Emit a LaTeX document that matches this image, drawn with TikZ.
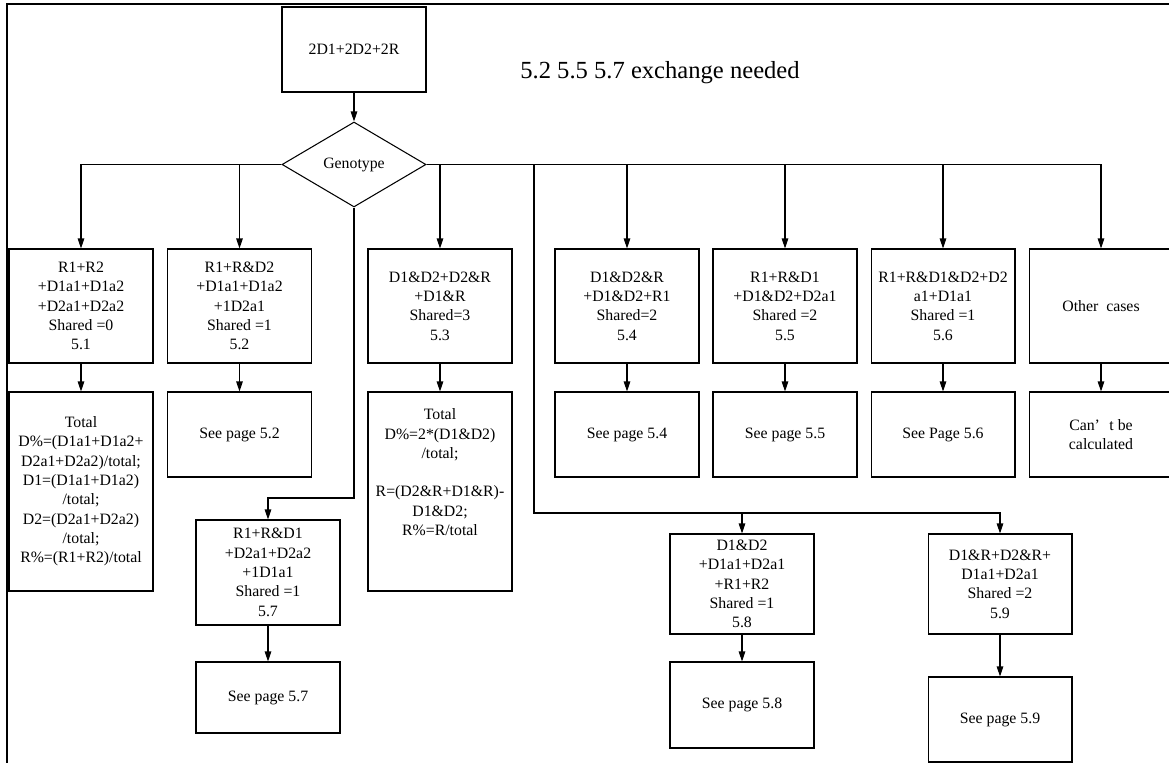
\documentclass[tikz,border=0pt]{standalone}
\usepackage{fontspec}
\setmainfont{Liberation Serif}
\usetikzlibrary{shapes.geometric,arrows.meta}

\begin{document}
\begin{tikzpicture}[x=0.02cm,y=-0.02cm,
  box/.style={draw, line width=0.6pt, minimum width=2.88cm, align=center,
    inner sep=1pt, font=\fontsize{9}{11}\selectfont},
  decide/.style={draw, diamond, line width=0.6pt, minimum width=2.88cm,
    minimum height=1.7cm, inner sep=0pt, font=\fontsize{9}{11}\selectfont},
  link/.style={line width=0.6pt, -{Triangle[length=2mm,width=1.3mm]}}]

  \useasboundingbox (0,0) rectangle (1169,763);
  % frame
  \draw[line width=0.6pt] (1180,4) -- (7,4) -- (7,770);

  % top of the chart
  \node[box, minimum height=1.7cm] (start) at (354,49.5) {2D1+2D2+2R};
  \node[decide] (geno) at (354,164.5) {Genotype};
  \node[font=\fontsize{14}{16}\selectfont] (note) at (660,73) {5.2 5.5 5.7 exchange needed};

  % genotype cases
  \node[box, minimum height=2.28cm] (b51) at (81,306) {R1+R2\\+D1a1+D1a2\\+D2a1+D2a2\\Shared =0\\5.1};
  \node[box, minimum height=2.28cm] (b52) at (239.5,306) {R1+R\&D2\\+D1a1+D1a2\\+1D2a1\\Shared =1\\5.2};
  \node[box, minimum height=2.28cm] (b53) at (440,306) {D1\&D2+D2\&R\\+D1\&R\\Shared=3\\5.3};
  \node[box, minimum height=2.28cm] (b54) at (627,306) {D1\&D2\&R\\+D1\&D2+R1\\Shared=2\\5.4};
  \node[box, minimum height=2.28cm] (b55) at (785,306) {R1+R\&D1\\+D1\&D2+D2a1\\Shared =2\\5.5};
  \node[box, minimum height=2.28cm] (b56) at (943,306) {R1+R\&D1\&D2+D2\\a1+D1a1\\Shared =1\\5.6};
  \node[box, minimum height=2.28cm] (other) at (1101,306) {Other~~cases};

  % results
  \node[box, minimum height=3.98cm] (r51) at (81,491.5) {Total\\D\%=(D1a1+D1a2+\\D2a1+D2a2)/total;\\D1=(D1a1+D1a2)\\/total;\\D2=(D2a1+D2a2)\\/total;\\R\%=(R1+R2)/total};
  \node[box, minimum height=1.7cm] (r52) at (239.5,434.5) {See page 5.2};
  \node[box, minimum height=3.98cm] (r53) at (440,491.5) {Total\\D\%=2*(D1\&D2)\\/total;\\[11pt]R=(D2\&R+D1\&R)-\\D1\&D2;\\R\%=R/total\\[11pt]\mbox{}};
  \node[box, minimum height=1.7cm] (r54) at (627,434.5) {See page 5.4};
  \node[box, minimum height=1.7cm] (r55) at (785,434.5) {See page 5.5};
  \node[box, minimum height=1.7cm] (r56) at (943,434.5) {See Page 5.6};
  \node[box, minimum height=1.7cm] (rother) at (1101,434.5) {Can’\hspace{0.6em}t be\\calculated};

  % lower cases
  \node[box, minimum height=2.1cm] (b57) at (268,572.5) {R1+R\&D1\\+D2a1+D2a2\\+1D1a1\\Shared =1\\5.7};
  \node[box, minimum height=1.42cm] (r57) at (268,697.5) {See page 5.7};
  \node[box, minimum height=2.0cm] (b58) at (742,584) {D1\&D2\\+D1a1+D2a1\\+R1+R2\\Shared =1\\5.8};
  \node[box, minimum height=1.72cm] (r58) at (742,705) {See page 5.8};
  \node[box, minimum height=2.0cm] (b59) at (1000,584) {D1\&R+D2\&R+\\D1a1+D2a1\\Shared =2\\5.9};
  \node[box, minimum height=1.7cm] (r59) at (1000,719.5) {See page 5.9};

  \coordinate (drop) at (354,498);
  \coordinate (split) at (534,513);

  % connectors
  \draw[link] (start) -- (geno);
  \draw[link] (geno.west) -| (b51.north);
  \draw[link] (geno.west) -| (b52.north);
  \foreach \n in {b53,b54,b55,b56,other}
    \draw[link] (geno.east) -| (\n.north);
  \draw[link] (geno.south) -- (drop) -| (b57.north);
  \draw[link] (geno.east) -| (split) -| (b58.north);
  \draw[link] (split) -| (b59.north);
  \foreach \a/\b in {b51/r51,b52/r52,b53/r53,b54/r54,b55/r55,b56/r56,other/rother,b57/r57,b58/r58,b59/r59}
    \draw[link] (\a) -- (\b);
\end{tikzpicture}
\end{document}
